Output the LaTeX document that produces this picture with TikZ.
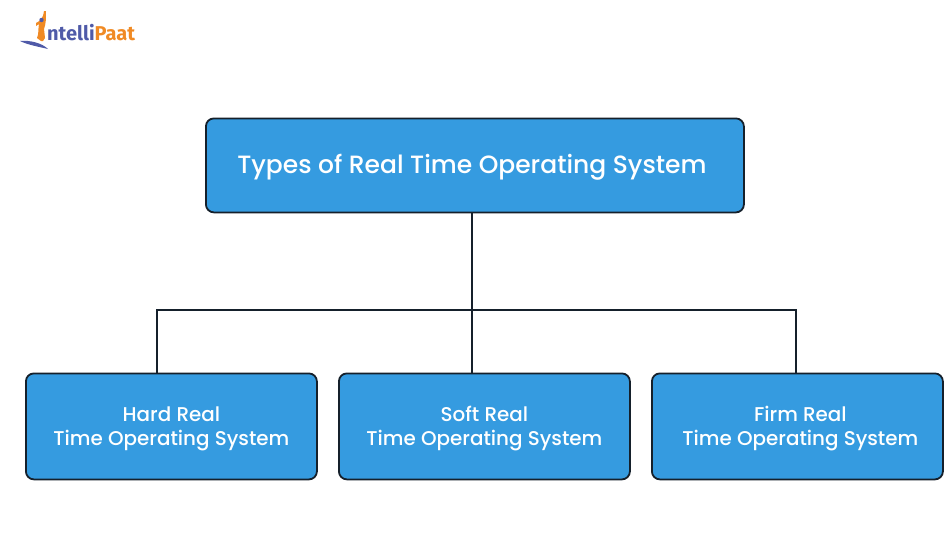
\documentclass[tikz,border=0pt]{standalone}
\usepackage{fontspec}
\setmainfont{Poppins}[UprightFont=* Medium]
\newfontfamily\logofont{Fira Sans}
\definecolor{boxblue}{HTML}{359BE0}
\definecolor{lineblack}{HTML}{15202B}
\definecolor{logoblue}{HTML}{4F5AA8}
\definecolor{logoorange}{HTML}{F08A24}
\newcommand\boxtext[2]{\raisebox{#1}[0pt][0pt]{\begin{tabular}{@{}c@{}}#2\end{tabular}}}
\tikzset{
 typebox/.style={draw=lineblack,line width=1.8pt,fill=boxblue,rounded corners=8pt,text=white,inner sep=0pt,anchor=north west},
 link/.style={draw=lineblack,line width=1.8pt}
}
\begin{document}
\begin{tikzpicture}[x=1pt,y=-1pt]
\useasboundingbox (0,0) rectangle (950,550);
\node[typebox,minimum width=538pt,minimum height=94pt,font=\fontsize{25}{30}\selectfont] (top) at (205,117.5) {\kern-6pt\boxtext{-8pt}{Types of Real Time Operating System}};
\node[typebox,minimum width=291pt,minimum height=106pt,font=\fontsize{19.9}{24.5}\selectfont] (hard) at (25,372.5) {\boxtext{-7.5pt}{Hard Real\\Time Operating System}};
\node[typebox,minimum width=291pt,minimum height=106pt,font=\fontsize{19.9}{24.5}\selectfont] (soft) at (338,372.5) {\boxtext{-7.5pt}{Soft Real\\Time Operating System}};
\node[typebox,minimum width=291pt,minimum height=106pt,font=\fontsize{19.9}{24.5}\selectfont] (firm) at (651,372.5) {\kern6pt\boxtext{-7.5pt}{Firm Real\\Time Operating System}};
\coordinate (bus) at (472,310);
\coordinate (hardtop) at (157,373);
\coordinate (softtop) at (472,373);
\coordinate (firmtop) at (796,373);
\coordinate (toplow) at (472,212);
\draw[link] (toplow) -- (softtop);
\draw[link,line join=miter] (hardtop) |- (bus) -| (firmtop);
% logo
\fill[logoblue] (20,41) .. controls (30,40) and (42,43) .. (48,49) .. controls (40,47) and (28,45) .. (20,41) -- cycle;
\fill[logoorange] (41,41) -- (37,38) .. controls (39,34) and (38,28) .. (39,24) -- (36,26) -- (36,23) .. controls (40,21) and (43,19) .. (44,11) -- (46,11) .. controls (46,18) and (46,24) .. (44,29) -- (45,38) -- (43,41) -- cycle;
\fill[logoblue] (41.5,20) circle (2.2pt);
\node[anchor=base west,inner sep=0pt,font=\logofont\bfseries\fontsize{20}{22}\selectfont] (logo) at (47,40.5) {\textcolor{logoblue}{ntelli}\textcolor{logoorange}{Paat}};
\end{tikzpicture}
\end{document}
